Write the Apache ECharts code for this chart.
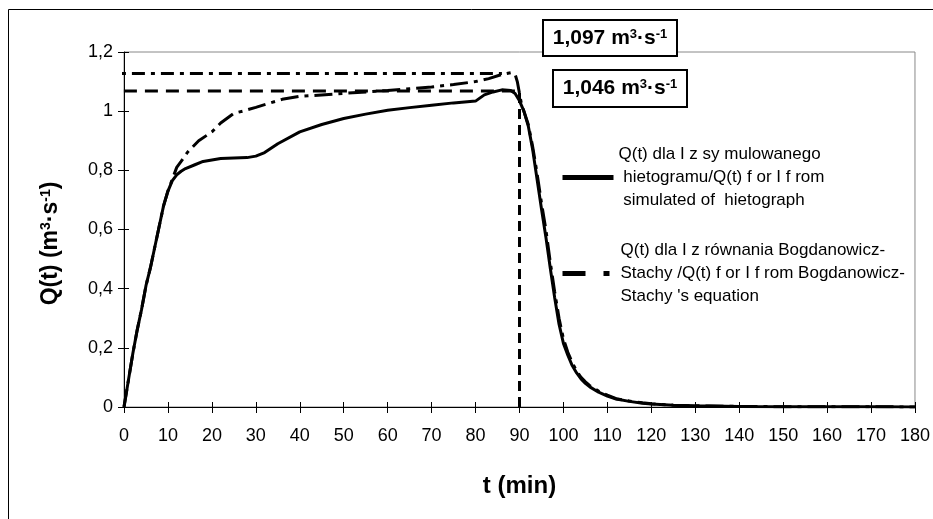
<!DOCTYPE html>
<html>
<head>
    <meta charset="UTF-8">
    <title>Q(t)</title>
    <script src="https://cdn.jsdelivr.net/npm/echarts@6/dist/echarts.min.js"></script>
</head>
<body style="margin: 0;overflow: hidden;background: #fff;">
<div id="chart" style="width: 933px;height: 519px;"></div>
<script type="text/javascript">
    // time (min) and discharge (m3/s)
    var tSim = [0, 1, 2, 3, 4, 5, 6, 7, 8, 9, 10, 11, 12, 13, 14, 16, 18, 20, 22, 25, 28, 30, 32, 35, 40, 45, 50, 55, 60, 65, 70, 75, 80, 82, 84, 86, 88, 89, 90, 91, 92, 93, 94, 95, 96, 97, 98, 99, 100, 101, 102, 103, 104, 105, 106, 108, 110, 112, 115, 118, 120, 125, 130, 140, 150, 160, 170, 180];
    var qSim = [0, 0.09, 0.18, 0.26, 0.33, 0.41, 0.47, 0.54, 0.61, 0.68, 0.73, 0.765, 0.785, 0.797, 0.806, 0.818, 0.83, 0.835, 0.84, 0.842, 0.843, 0.848, 0.86, 0.89, 0.93, 0.955, 0.975, 0.99, 1.003, 1.012, 1.02, 1.028, 1.034, 1.055, 1.065, 1.072, 1.07, 1.06, 1.035, 1.0, 0.95, 0.87, 0.77, 0.67, 0.575, 0.47, 0.37, 0.28, 0.215, 0.175, 0.14, 0.115, 0.095, 0.08, 0.068, 0.05, 0.037, 0.027, 0.019, 0.013, 0.01, 0.006, 0.004, 0.002, 0.001, 0.001, 0.001, 0];

    var tBog = [0, 1, 2, 3, 4, 5, 6, 7, 8, 9, 10, 11, 12, 13, 14.5, 17, 20, 22, 25, 27, 30, 36, 40, 50, 60, 65, 70, 75, 80, 83, 86, 88, 89, 89.5, 90, 90.5, 91, 92, 93, 94, 95, 96, 97, 98, 99, 100, 101, 102, 103, 104, 105, 106, 108, 110, 112, 115, 118, 120, 125, 130, 140, 150, 160, 170, 180];
    var qBog = [0, 0.09, 0.18, 0.26, 0.33, 0.41, 0.47, 0.54, 0.61, 0.68, 0.73, 0.77, 0.81, 0.83, 0.862, 0.9, 0.93, 0.96, 0.993, 1.0, 1.013, 1.04, 1.05, 1.06, 1.07, 1.076, 1.082, 1.09, 1.1, 1.11, 1.124, 1.13, 1.125, 1.1, 1.06, 1.02, 1.0, 0.955, 0.88, 0.79, 0.69, 0.6, 0.49, 0.39, 0.3, 0.23, 0.185, 0.15, 0.122, 0.1, 0.085, 0.072, 0.054, 0.04, 0.028, 0.02, 0.014, 0.011, 0.006, 0.004, 0.002, 0.001, 0.001, 0.001, 0];

    // peak marker lines (drawn levels) and the values printed in the boxes
    var peakBog = 1.127;
    var peakSim = 1.068;
    var peakBogText = '1,097';
    var peakSimText = '1,046';
    var peakLineStart = -4.8;
    var peakBogEnd = 86;
    var peakSimEnd = 89;
    var tEnd = 90;

    var xTicks = ['0', '10', '20', '30', '40', '50', '60', '70', '80', '90', '100', '110', '120', '130', '140', '150', '160', '170', '180'];
    var yTicks = ['0', '0,2', '0,4', '0,6', '0,8', '1', '1,2'];

    var nameSim = 'Q(t) dla I z sy mulowanego\n hietogramu/Q(t) f or I f rom\n simulated of  hietograph';
    var nameBog = 'Q(t) dla I z równania Bogdanowicz-\nStachy /Q(t) f or I f rom Bogdanowicz-\nStachy \'s equation';

    function pairs(xs, ys) {
        return xs.map(function (x, i) { return [x, ys[i]]; });
    }

    var FONT = "'Liberation Sans', Arial, sans-serif";
    function sup(size) {
        return {fontSize: size, fontWeight: 'bold', fontFamily: FONT, verticalAlign: 'top', lineHeight: size, color: '#000'};
    }
    var legendText = {fontSize: 17, lineHeight: 23, color: '#000', fontFamily: FONT, padding: [10, 0, 0, 0]};

    var chart = echarts.init(document.getElementById('chart'), null, {renderer: 'canvas'});
    var option = {
        backgroundColor: '#fff',
        animation: false,
        color: ['#000', '#000', '#000', '#000', '#000'],
        textStyle: {fontFamily: FONT, color: '#000'},
        grid: {
            left: 124, right: 17, top: 52, bottom: 112,
            show: true, borderColor: '#888', borderWidth: 1, backgroundColor: 'transparent'
        },
        legend: [{
            data: [nameSim],
            left: 555, top: 133,
            selectedMode: false,
            itemWidth: 51, itemHeight: 6,
            itemStyle: {opacity: 0},
            lineStyle: {width: 5, type: 'solid', color: '#000'},
            textStyle: legendText
        }, {
            data: [nameBog],
            left: 555, top: 229,
            selectedMode: false,
            itemWidth: 53, itemHeight: 6,
            itemStyle: {opacity: 0},
            lineStyle: {width: 5, type: [23, 18, 6, 30], color: '#000'},
            textStyle: legendText
        }],
        xAxis: [{
            type: 'value', min: 0, max: 180, interval: 10,
            name: 't (min)', nameLocation: 'middle', nameGap: 67,
            nameTextStyle: {fontSize: 24, fontWeight: 'bold', color: '#000', fontFamily: FONT},
            axisLine: {lineStyle: {color: '#000', width: 1}},
            axisTick: {length: 6, lineStyle: {color: '#000'}},
            axisLabel: {fontSize: 18, color: '#000', margin: 20, formatter: function (v, i) { return xTicks[i]; }},
            splitLine: {show: false}
        }, {
            type: 'value', min: 0, max: 180, interval: 10, position: 'bottom',
            axisLine: {show: false},
            axisTick: {inside: true, length: 5, lineStyle: {color: '#000'}},
            axisLabel: {show: false},
            splitLine: {show: false}
        }],
        yAxis: [{
            type: 'value', min: 0, max: 1.2, interval: 0.2,
            name: 'Q(t) (m{sup|3}·s{sup|-1})', nameLocation: 'middle', nameGap: 62, nameRotate: 90,
            nameTextStyle: {fontSize: 23, fontWeight: 'bold', color: '#000', fontFamily: FONT, padding: [0, 28, 0, 0], rich: {sup: sup(14)}},
            axisLine: {show: true, lineStyle: {color: '#000', width: 1}},
            axisTick: {show: true, length: 6, lineStyle: {color: '#000'}},
            axisLabel: {fontSize: 18, color: '#000', margin: 11, formatter: function (v, i) { return yTicks[i]; }},
            splitLine: {show: false}
        }, {
            type: 'value', min: 0, max: 1.2, interval: 0.2, position: 'left',
            axisLine: {show: false},
            axisTick: {show: true, inside: true, length: 5, lineStyle: {color: '#000'}},
            axisLabel: {show: false},
            splitLine: {show: false}
        }],
        series: [{
            name: nameBog,
            type: 'line',
            data: pairs(tBog, qBog),
            showSymbol: false, symbol: 'none',
            itemStyle: {color: '#000'},
            lineStyle: {color: '#000', width: 3, type: [18, 6, 4, 6]},
            z: 3
        }, {
            name: nameSim,
            type: 'line',
            data: pairs(tSim, qSim),
            showSymbol: false, symbol: 'none',
            itemStyle: {color: '#000'},
            lineStyle: {color: '#000', width: 3, type: 'solid'},
            z: 4
        }, {
            name: 'peakBog',
            type: 'line', clip: false, silent: true,
            data: [[peakLineStart, peakBog], [peakBogEnd, peakBog]],
            symbol: 'none',
            lineStyle: {color: '#000', width: 3, type: [13, 6, 4, 6]},
            z: 2
        }, {
            name: 'peakSim',
            type: 'line', clip: false, silent: true,
            data: [[peakLineStart, peakSim], [peakSimEnd, peakSim]],
            symbol: 'none',
            lineStyle: {color: '#000', width: 3, type: [13, 8]},
            z: 2
        }, {
            name: 'tEnd',
            type: 'line', silent: true,
            data: [[tEnd, 0], [tEnd, peakSim]],
            symbol: 'none',
            lineStyle: {color: '#000', width: 3, type: [10, 6]},
            z: 2
        }],
        graphic: [{
            type: 'rect', silent: true, z: 0,
            shape: {x: 8.5, y: 9.5, width: 1000, height: 1000},
            style: {fill: 'none', stroke: '#000', lineWidth: 1}
        }, {
            type: 'rect', z: 10,
            shape: {x: 543, y: 20, width: 134, height: 36},
            style: {fill: '#fff', stroke: '#000', lineWidth: 2}
        }, {
            type: 'text', z: 11,
            x: 610, y: 38,
            style: {
                text: peakBogText + ' m{sup|3}·s{sup|-1}',
                fontSize: 21, fontWeight: 'bold', fontFamily: FONT, fill: '#000',
                align: 'center', verticalAlign: 'middle',
                rich: {sup: sup(13)}
            }
        }, {
            type: 'rect', z: 10,
            shape: {x: 553, y: 70, width: 134, height: 37},
            style: {fill: '#fff', stroke: '#000', lineWidth: 2}
        }, {
            type: 'text', z: 11,
            x: 620, y: 88.5,
            style: {
                text: peakSimText + ' m{sup|3}·s{sup|-1}',
                fontSize: 21, fontWeight: 'bold', fontFamily: FONT, fill: '#000',
                align: 'center', verticalAlign: 'middle',
                rich: {sup: sup(13)}
            }
        }]
    };
    chart.setOption(option);
</script>
</body>
</html>
